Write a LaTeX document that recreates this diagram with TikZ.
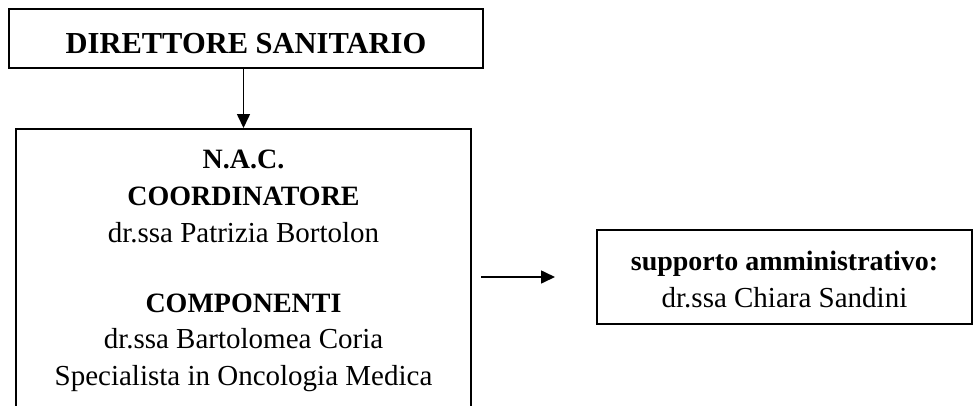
\documentclass[tikz,border=0pt]{standalone}
\usepackage{fontspec}
\setmainfont{Liberation Serif}
\usetikzlibrary{arrows.meta}
\begin{document}
\begin{tikzpicture}[x=1pt,y=-1pt,
  box/.style={draw, line width=1.6pt, inner sep=0pt},
  conn/.style={-{Triangle[length=14pt,width=13pt]}, line width=1.6pt},
  txt/.style={anchor=base, inner sep=0pt, font=\fontsize{29}{32}\selectfont},
  btxt/.style={txt, font=\fontsize{28}{32}\selectfont\bfseries}]
\useasboundingbox (0,0) rectangle (974,405);
\clip (0,0) rectangle (974,405);
\node[box, minimum width=474pt, minimum height=59pt] (dir) at (246,38.5) {};
\node[btxt, font=\fontsize{30.5}{36}\selectfont\bfseries] (dirtxt) at (246,53) {DIRETTORE SANITARIO};
\node[box, minimum width=455pt, minimum height=320pt, anchor=north] (nac) at (243.5,128) {};
\node[btxt] (l1) at (243.5,168) {N.A.C.};
\node[btxt] (l2) at (243.5,205) {COORDINATORE};
\node[txt] (l3) at (243.5,242) {dr.ssa Patrizia Bortolon};
\node[btxt] (l4) at (243.5,312) {COMPONENTI};
\node[txt] (l5) at (243.5,348) {dr.ssa Bartolomea Coria};
\node[txt] (l6) at (243.5,385) {Specialista in Oncologia Medica};
\node[box, minimum width=375pt, minimum height=94pt] (sup) at (784.5,277) {};
\node[btxt] (s1) at (784.5,270) {supporto amministrativo:};
\node[txt] (s2) at (784.5,307) {dr.ssa Chiara Sandini};
\coordinate (a1) at (481,277);
\coordinate (a2) at (555,277);
\draw[conn] (nac.north |- dir.south) -- (nac.north);
\draw[conn] (a1) -- (a2);
\end{tikzpicture}
\end{document}
